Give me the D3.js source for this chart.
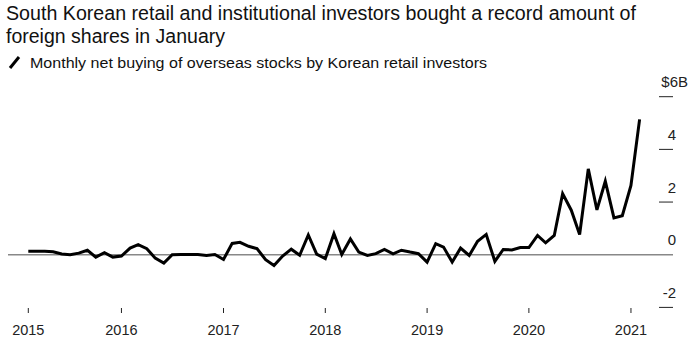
<!DOCTYPE html>
<html>
<head>
<meta charset="utf-8">
<script src="https://cdn.jsdelivr.net/npm/d3@7"></script>
<style>
  html, body { margin: 0; padding: 0; background: #fff; }
  svg { display: block; }
  text { font-family: "Liberation Sans Narrow", "Liberation Sans", Arial, sans-serif; }
</style>
</head>
<body>
<svg id="chart" width="694" height="347"></svg>
<script>
// ---- Data ----
const titleLines = [
  "South Korean retail and institutional investors bought a record amount of",
  "foreign shares in January"
];
const legendLabel = "Monthly net buying of overseas stocks by Korean retail investors";
const firstMonth = "2015-01";   // first monthly observation
// Monthly net buying, $ billions (Jan 2015 .. Jan 2021)
const values = [
  0.13, 0.13, 0.13, 0.11, 0.03, 0.00, 0.06, 0.17, -0.09, 0.08, -0.09, -0.05,
  0.25, 0.38, 0.23, -0.13, -0.32, 0.00, 0.01, 0.01, 0.01, -0.03, 0.01, -0.18,
  0.43, 0.47, 0.32, 0.23, -0.19, -0.41, -0.05, 0.21, -0.02, 0.75, 0.02, -0.15,
  0.80, 0.01, 0.60, 0.10, -0.03, 0.04, 0.20, 0.03, 0.17, 0.10, 0.04, -0.28,
  0.42, 0.29, -0.28, 0.25, -0.03, 0.51, 0.77, -0.25, 0.20, 0.18, 0.27, 0.27,
  0.73, 0.45, 0.73, 2.32, 1.69, 0.77, 3.26, 1.70, 2.79, 1.40, 1.48, 2.63,
  5.14
];
const xTickYears = [2015, 2016, 2017, 2018, 2019, 2020, 2021];
const yTicks = [-2, 0, 2, 4, 6];

// ---- Build ----
const svg = d3.select("#chart");
const parseMonth = d3.timeParse("%Y-%m");
const start = parseMonth(firstMonth);
// each monthly value is plotted at the end of its month
const data = values.map((v, i) => ({ date: d3.timeMonth.offset(start, i + 1), value: v }));

const x = d3.scaleTime()
  .domain([data[0].date, data[data.length - 1].date])
  .range([28.3, 639.6]);
const y = d3.scaleLinear().domain([-2, 6]).range([307.4, 96.7]);

// Title
const title = svg.append("g");
titleLines.forEach((t, i) => {
  title.append("text")
    .attr("x", 6).attr("y", 20 + i * 22.5)
    .attr("font-size", 19.5)
    .attr("fill", "#111")
    .attr("textLength", i === 0 ? 630 : 219)
    .attr("lengthAdjust", "spacingAndGlyphs")
    .text(t);
});

// Legend
svg.append("line")
  .attr("x1", 10).attr("y1", 68).attr("x2", 19).attr("y2", 57)
  .attr("stroke", "#000").attr("stroke-width", 3);
svg.append("text")
  .attr("x", 30).attr("y", 67.5)
  .attr("font-size", 15.5)
  .attr("fill", "#111")
  .attr("textLength", 457)
  .attr("lengthAdjust", "spacingAndGlyphs")
  .text(legendLabel);

// Y axis (right side)
const yAxis = svg.append("g");
yTicks.forEach(t => {
  if (t !== 0) {
    yAxis.append("line")
      .attr("x1", 659).attr("x2", 673)
      .attr("y1", y(t)).attr("y2", y(t))
      .attr("stroke", "#222").attr("stroke-width", 1);
  }
  const lbl = yAxis.append("text")
    .attr("y", y(t) - 9.5)
    .attr("font-size", 15)
    .attr("fill", "#222")
    .style("font-family", "'Liberation Sans', Arial, sans-serif");
  if (t === 6) {
    lbl.attr("x", 688).attr("text-anchor", "end").text("$6B");
  } else {
    lbl.attr("x", 676).attr("text-anchor", "end").text(t);
  }
});

// Zero line
svg.append("line")
  .attr("x1", 8).attr("x2", 673)
  .attr("y1", y(0)).attr("y2", y(0))
  .attr("stroke", "#888").attr("stroke-width", 1.5);

// X axis ticks
const xTickDates = xTickYears.map((yr, i) => i === 0 ? x.domain()[0] : new Date(yr, 0, 1));
const xAxis = svg.append("g");
xTickDates.forEach((d, i) => {
  const px = x(d);
  xAxis.append("line")
    .attr("x1", px).attr("x2", px)
    .attr("y1", 308).attr("y2", 313)
    .attr("stroke", "#222").attr("stroke-width", 1);
  xAxis.append("text")
    .attr("x", px).attr("y", 335)
    .attr("text-anchor", "middle")
    .attr("font-size", 14.5)
    .attr("fill", "#222")
    .style("font-family", "'Liberation Sans', Arial, sans-serif")
    .text(xTickYears[i]);
});

// Line
const line = d3.line().x(d => x(d.date)).y(d => y(d.value));
svg.append("path")
  .datum(data)
  .attr("d", line)
  .attr("fill", "none")
  .attr("stroke", "#000")
  .attr("stroke-width", 3)
  .attr("stroke-linejoin", "miter")
  .attr("stroke-miterlimit", 4);
</script>
</body>
</html>
